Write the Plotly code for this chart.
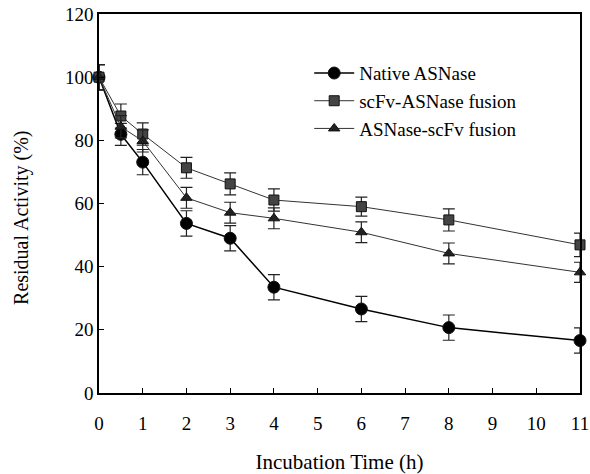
import plotly.graph_objects as go

time_h = [0, 0.5, 1, 2, 3, 4, 6, 8, 11]
native = [100, 81.9, 73.1, 53.7, 49.0, 33.5, 26.6, 20.7, 16.6]
native_err = [4, 3.5, 4, 4, 4, 4, 4, 4, 4]
scfv_asnase = [100, 87.7, 82.0, 71.3, 66.2, 61.1, 59.0, 54.8, 46.9]
scfv_asnase_err = [4, 3.8, 3.5, 3.3, 3.5, 3.5, 3.0, 3.5, 3.7]
asnase_scfv = [100, 84.3, 79.8, 61.8, 57.1, 55.3, 50.9, 44.2, 38.2]
asnase_scfv_err = [4, 3.5, 3.5, 3.3, 3.3, 3.3, 3.3, 3.3, 3.2]

x_ticks = list(range(0, 12))
y_ticks = [0, 20, 40, 60, 80, 100, 120]

font_family = "Liberation Serif, Times New Roman, serif"

fig = go.Figure()

def add(name, y, err, symbol, size, color, lw, lcolor):
    fig.add_trace(go.Scatter(
        x=time_h, y=y, name=name, mode="lines+markers", cliponaxis=False,
        line=dict(color=lcolor, width=lw),
        marker=dict(symbol=symbol, size=size, color=color,
                    line=dict(color="#111", width=1)),
        error_y=dict(type="data", array=err, visible=True,
                     color="#222", thickness=1.2, width=6),
    ))

add("Native ASNase", native, native_err, "circle", 12, "#000", 1.5, "#000")
add("scFv-ASNase fusion", scfv_asnase, scfv_asnase_err, "square", 10, "#444", 1, "#333")
add("ASNase-scFv fusion", asnase_scfv, asnase_scfv_err, "triangle-up", 10, "#222", 1, "#333")

fig.update_layout(
    width=590, height=474,
    margin=dict(l=99, r=10, t=14, b=81),
    paper_bgcolor="white", plot_bgcolor="white",
    font=dict(family=font_family, color="#000", size=19),
    showlegend=True,
    legend=dict(x=0.437, y=0.894, xanchor="left", yanchor="top",
                bgcolor="rgba(0,0,0,0)", borderwidth=0,
                font=dict(size=19, family=font_family), tracegroupgap=0,
                itemwidth=40),
    annotations=[dict(
        text="Residual Activity (%)", textangle=-90,
        xref="paper", yref="paper", x=-0.16, y=0.462,
        xanchor="center", yanchor="middle", showarrow=False,
        font=dict(size=20, family=font_family, color="#000"),
    )],
)
fig.update_xaxes(
    range=[0, 11], tickmode="array", tickvals=x_ticks,
    ticktext=[str(t) for t in x_ticks],
    showline=True, linecolor="#000", linewidth=1.5, mirror=True,
    ticks="inside", ticklen=5, tickcolor="#000",
    showgrid=False, zeroline=False, automargin=False,
    ticklabeloverflow="allow", ticklabelstandoff=12,
    tickfont=dict(size=19),
    title=dict(text="Incubation Time (h)", font=dict(size=21), standoff=24),
)
fig.update_yaxes(
    range=[0, 120], tickmode="array", tickvals=y_ticks,
    showline=True, linecolor="#000", linewidth=1.5, mirror=True,
    ticks="inside", ticklen=5, tickcolor="#000",
    showgrid=False, zeroline=False, automargin=False,
    ticklabeloverflow="allow",
    tickfont=dict(size=19),
)

fig.write_html("out.html", config={"displayModeBar": False},
               post_script="document.body.style.margin='0';")
